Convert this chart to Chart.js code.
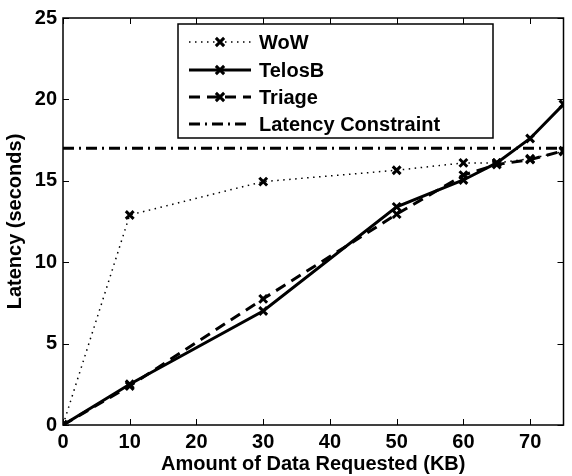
<!DOCTYPE html>
<html>
<head>
<meta charset="utf-8">
<script src="https://cdn.jsdelivr.net/npm/chart.js@4"></script>
<style>
  html, body { margin: 0; padding: 0; background: #fff; }
  #wrap { width: 572px; height: 476px; }
</style>
</head>
<body>
<div id="wrap"><canvas id="latencyChart" width="572" height="476"></canvas></div>
<script>
const dataKB = [0, 10, 30, 50, 60, 65, 70, 75];
const wowLatency = [0, 12.9, 14.95, 15.65, 16.1, 16.1, 16.35, 16.8];
const telosLatency = [0, 2.5, 7.0, 13.4, 15.05, 16.1, 17.6, 19.7];
const triageLatency = [0, 2.4, 7.75, 12.95, 15.35, 16.0, 16.3, 16.85];
const constraintKB = [0, 75];
const constraintLatency = [17, 17];
const xTicks = [0, 10, 20, 30, 40, 50, 60, 70];
const yTicks = [0, 5, 10, 15, 20, 25];

const FONT = { family: '"Liberation Sans", Arial, sans-serif', size: 20, weight: 'bold' };

function toPoints(xs, ys) {
    return xs.map((x, i) => ({ x: x, y: ys[i] }));
}

// box + inward ticks, matlab style
const framePlugin = {
    id: 'frame',
    afterDatasetsDraw(chart) {
        const { ctx, chartArea: a, scales } = chart;
        ctx.save();
        ctx.strokeStyle = '#000';
        ctx.lineWidth = 1.5;
        ctx.strokeRect(a.left, a.top, a.right - a.left, a.bottom - a.top);
        ctx.lineWidth = 1;
        const len = 6;
        xTicks.forEach(v => {
            const px = Math.round(scales.x.getPixelForValue(v)) + 0.5;
            ctx.beginPath();
            ctx.moveTo(px, a.bottom); ctx.lineTo(px, a.bottom - len);
            ctx.moveTo(px, a.top); ctx.lineTo(px, a.top + len);
            ctx.stroke();
        });
        yTicks.forEach(v => {
            const py = Math.round(scales.y.getPixelForValue(v)) + 0.5;
            ctx.beginPath();
            ctx.moveTo(a.left, py); ctx.lineTo(a.left + len, py);
            ctx.moveTo(a.right, py); ctx.lineTo(a.right - len, py);
            ctx.stroke();
        });
        ctx.restore();
    }
};

// legend box drawn inside the plot like the original
const boxLegend = {
    id: 'boxLegend',
    afterDraw(chart) {
        const ctx = chart.ctx;
        const box = { left: 178, top: 24, right: 493, bottom: 138 };
        const rows = [42, 70, 97, 124];
        ctx.save();
        ctx.fillStyle = '#fff';
        ctx.fillRect(box.left, box.top, box.right - box.left, box.bottom - box.top);
        ctx.strokeStyle = '#000';
        ctx.lineWidth = 1.5;
        ctx.strokeRect(box.left, box.top, box.right - box.left, box.bottom - box.top);
        chart.data.datasets.forEach((ds, i) => {
            const y = rows[i];
            ctx.strokeStyle = '#000';
            ctx.lineWidth = ds.borderWidth;
            ctx.setLineDash(ds.borderDash || []);
            ctx.beginPath();
            ctx.moveTo(189, y);
            ctx.lineTo(251, y);
            ctx.stroke();
            ctx.setLineDash([]);
            if (ds.pointRadius > 0) {
                ctx.lineWidth = ds.pointBorderWidth;
                const r = ds.pointRadius * 0.75;
                ctx.beginPath();
                ctx.moveTo(220 - r, y - r); ctx.lineTo(220 + r, y + r);
                ctx.moveTo(220 - r, y + r); ctx.lineTo(220 + r, y - r);
                ctx.stroke();
            }
            ctx.fillStyle = '#000';
            ctx.font = 'bold 20px "Liberation Sans", Arial, sans-serif';
            ctx.textBaseline = 'middle';
            ctx.textAlign = 'left';
            ctx.fillText(ds.label, 259, y + 1);
        });
        ctx.restore();
    }
};

const common = {
    borderColor: '#000',
    backgroundColor: '#000',
    pointStyle: 'crossRot',
    pointRadius: 5.5,
    pointBorderWidth: 3,
    pointBorderColor: '#000',
    tension: 0,
    fill: false,
};

const ctx = document.getElementById('latencyChart').getContext('2d');
const chart = new Chart(ctx, {
    type: 'line',
    data: {
        datasets: [
            { ...common, label: 'WoW', data: toPoints(dataKB, wowLatency), borderWidth: 1.5, borderDash: [1.5, 4.5] },
            { ...common, label: 'TelosB', data: toPoints(dataKB, telosLatency), borderWidth: 3 },
            { ...common, label: 'Triage', data: toPoints(dataKB, triageLatency), borderWidth: 3, borderDash: [11, 7] },
            { ...common, label: 'Latency Constraint', data: toPoints(constraintKB, constraintLatency), borderWidth: 3, borderDash: [11, 5, 2, 5], pointRadius: 0 },
        ],
    },
    options: {
        responsive: false,
        animation: false,
        layout: { padding: { top: 14, right: 1, left: 0, bottom: 0 } },
        plugins: {
            legend: { display: false },
            tooltip: { enabled: false },
        },
        scales: {
            x: {
                type: 'linear',
                min: 0,
                max: 75,
                afterBuildTicks: s => { s.ticks = xTicks.map(v => ({ value: v })); },
                afterFit: s => { s.height = 51; },
                grid: { display: false, drawTicks: false },
                border: { display: false },
                ticks: { color: '#000', font: FONT, padding: 5, maxRotation: 0 },
                title: { display: true, text: 'Amount of Data Requested (KB)', color: '#000', font: FONT, padding: { top: 0, bottom: 0 } },
            },
            y: {
                min: 0,
                max: 25,
                afterBuildTicks: s => { s.ticks = yTicks.map(v => ({ value: v })); },
                afterFit: s => { s.width = 63; },
                grid: { display: false, drawTicks: false },
                border: { display: false },
                ticks: { color: '#000', font: FONT, padding: 6 },
                title: { display: true, text: 'Latency (seconds)', color: '#000', font: FONT, padding: { top: 3, bottom: 0 } },
            },
        },
    },
    plugins: [framePlugin, boxLegend],
});
</script>
</body>
</html>
